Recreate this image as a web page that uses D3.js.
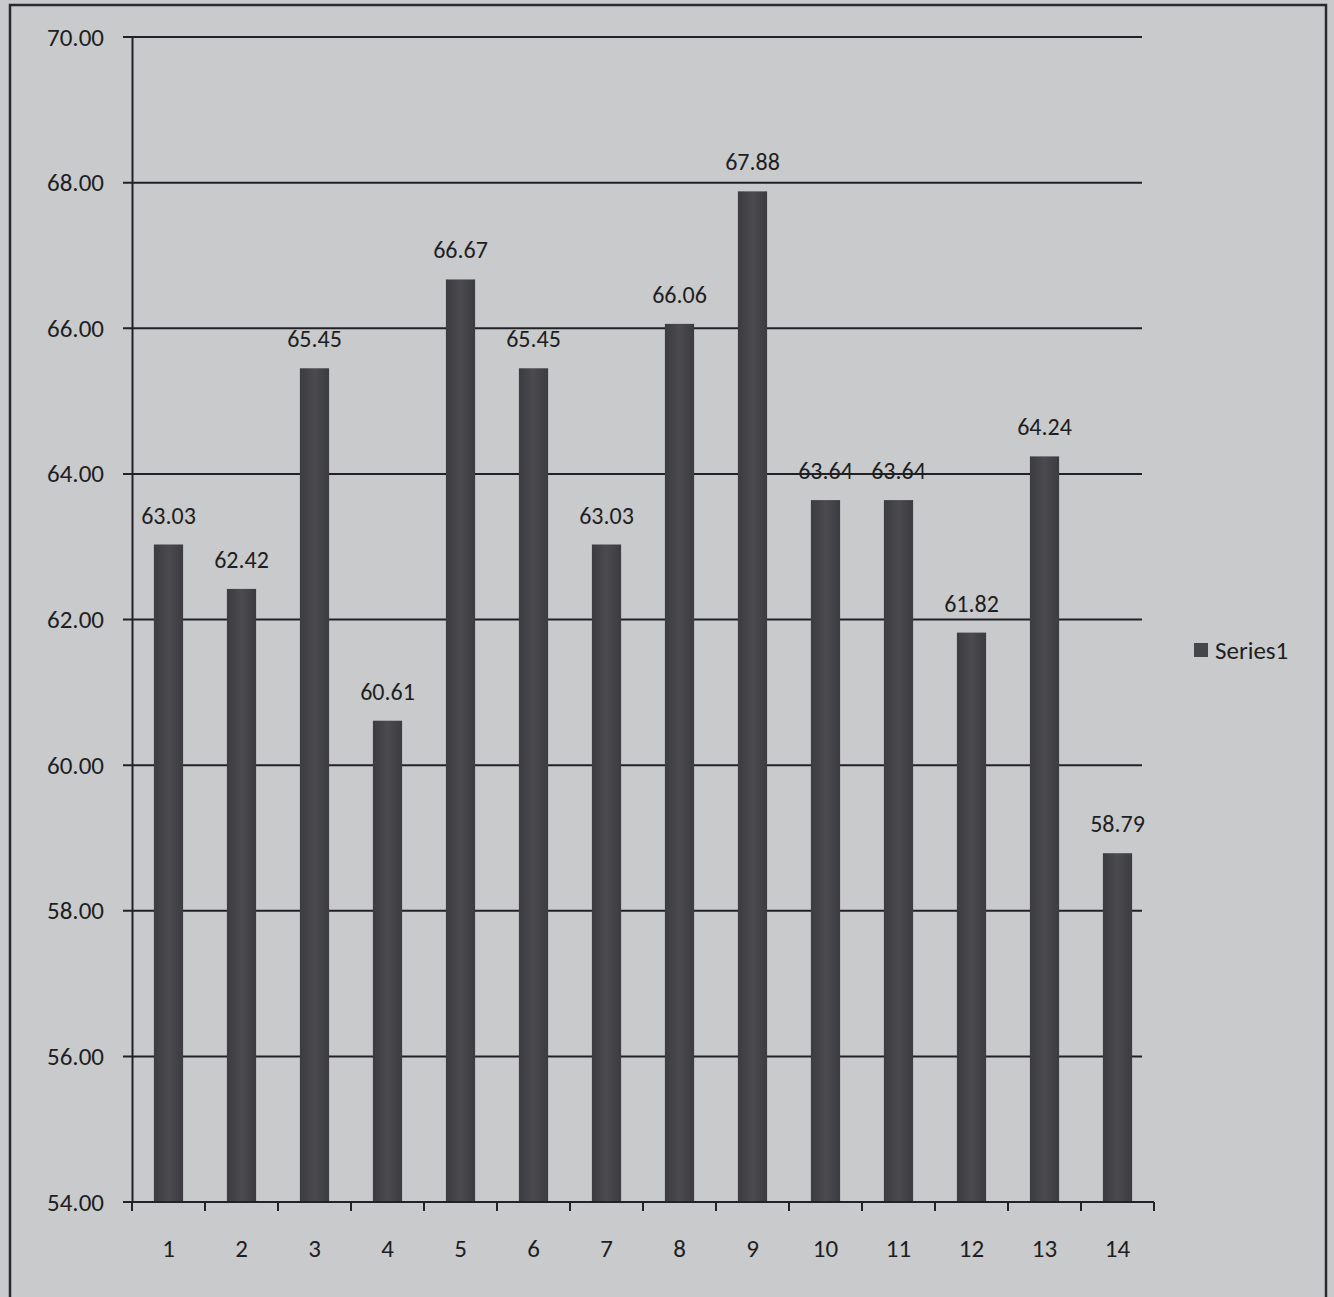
<!DOCTYPE html>
<html>
<head>
<meta charset="utf-8">
<script src="https://cdn.jsdelivr.net/npm/d3@7"></script>
<style>
  body { margin: 0; background: #c9cacc; }
  svg { display: block; }
</style>
</head>
<body>
<div id="chart"></div>
<script>
const categories = ["1", "2", "3", "4", "5", "6", "7", "8", "9", "10", "11", "12", "13", "14"];
const series1 = [63.03, 62.42, 65.45, 60.61, 66.67, 65.45, 63.03, 66.06, 67.88, 63.64, 63.64, 61.82, 64.24, 58.79];
const yTicks = [54, 56, 58, 60, 62, 64, 66, 68, 70];
const seriesName = "Series1";

const W = 1334, H = 1297;
const plot = {left: 132, right: 1154, top: 37, bottom: 1202};
const font = "Calibri, Carlito, 'Open Sans', sans-serif";

const svg = d3.select("#chart").append("svg")
    .attr("width", W)
    .attr("height", H);

// page background + outer frame
svg.append("rect").attr("width", W).attr("height", H).attr("fill", "#c9cacc");
svg.append("rect")
    .attr("x", 10).attr("y", 5)
    .attr("width", 1316).attr("height", 1310)
    .attr("fill", "none")
    .attr("stroke", "#2a2a2e")
    .attr("stroke-width", 2.5);

const x = d3.scaleBand()
    .domain(categories)
    .range([plot.left, plot.right])
    .paddingInner(0.6)
    .paddingOuter(0.3);

const y = d3.scaleLinear()
    .domain([54, 70])
    .range([plot.bottom, plot.top]);

// gridlines
svg.append("g")
    .selectAll("line")
    .data(yTicks)
    .join("line")
    .attr("x1", plot.left - 9)
    .attr("x2", plot.right - 12)
    .attr("y1", d => y(d))
    .attr("y2", d => y(d))
    .attr("stroke", "#222226")
    .attr("stroke-width", 2);

// y axis
const yAxis = d3.axisLeft(y)
    .tickValues(yTicks)
    .tickFormat(d3.format(".2f"))
    .tickSize(0)
    .tickPadding(28);
svg.append("g")
    .attr("transform", `translate(${plot.left},0)`)
    .call(yAxis)
    .call(g => g.select(".domain").attr("stroke", "#222226").attr("stroke-width", 2))
    .call(g => g.selectAll("text")
        .attr("fill", "#1e1e22")
        .style("font", `25px ${font}`));

// bars
const grad = svg.append("defs").append("linearGradient")
    .attr("id", "barfill")
    .attr("x1", 0).attr("x2", 1);
grad.append("stop").attr("offset", "0%").attr("stop-color", "#3c3c40");
grad.append("stop").attr("offset", "50%").attr("stop-color", "#4b4b4f");
grad.append("stop").attr("offset", "100%").attr("stop-color", "#3c3c40");

svg.append("g")
    .selectAll("rect")
    .data(series1)
    .join("rect")
    .attr("x", (d, i) => x(categories[i]))
    .attr("width", x.bandwidth())
    .attr("y", d => y(d))
    .attr("height", d => y(54) - y(d))
    .attr("fill", "url(#barfill)");

// data labels
svg.append("g")
    .selectAll("text")
    .data(series1)
    .join("text")
    .attr("x", (d, i) => x(categories[i]) + x.bandwidth() / 2)
    .attr("y", d => y(d) - 21)
    .attr("text-anchor", "middle")
    .attr("fill", "#1e1e22")
    .style("font", `24px ${font}`)
    .text(d => d.toFixed(2));

// x axis
const xAxis = d3.axisBottom(x).tickSize(0).tickPadding(37);
const xg = svg.append("g")
    .attr("transform", `translate(0,${plot.bottom})`)
    .call(xAxis)
    .call(g => g.select(".domain").remove())
    .call(g => g.selectAll("text")
        .attr("fill", "#1e1e22")
        .style("font", `25px ${font}`));

xg.append("line")
    .attr("x1", plot.left - 9).attr("x2", plot.right)
    .attr("stroke", "#222226").attr("stroke-width", 2);

const bounds = d3.range(categories.length + 1).map(i => plot.left + i * (plot.right - plot.left) / categories.length);
xg.selectAll(".cat-tick")
    .data(bounds)
    .join("line")
    .attr("class", "cat-tick")
    .attr("x1", d => d).attr("x2", d => d)
    .attr("y1", 0).attr("y2", 9)
    .attr("stroke", "#222226").attr("stroke-width", 2);

// legend
const legend = svg.append("g").attr("transform", "translate(1194,650)");
legend.append("rect")
    .attr("x", 0).attr("y", -7)
    .attr("width", 14).attr("height", 14)
    .attr("fill", "#46464a");
legend.append("text")
    .attr("x", 21).attr("y", 9)
    .attr("fill", "#1e1e22")
    .style("font", `25px ${font}`)
    .text(seriesName);
</script>
</body>
</html>
